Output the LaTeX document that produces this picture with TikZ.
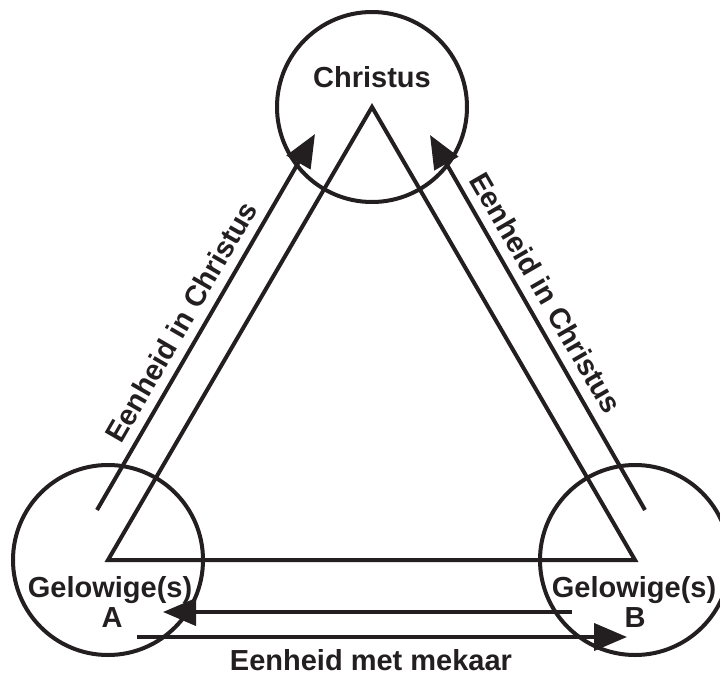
\documentclass[tikz,border=0pt]{standalone}
\usepackage{fontspec}
\setmainfont{Liberation Sans}
\usetikzlibrary{arrows.meta}
\definecolor{ink}{RGB}{35,31,32}
\begin{document}
\begin{tikzpicture}[x=1pt,y=-1pt,
  ln/.style={draw=ink, line width=4pt},
  ring/.style={circle, draw=ink, line width=4pt, minimum size=190pt, inner sep=0pt},
  arr/.style={ln, -{Triangle[length=33pt,width=27pt]}},
  lbl/.style={text=ink, font=\fontsize{29}{32}\selectfont\bfseries, inner sep=0pt},
]
\useasboundingbox (0,0) rectangle (720,677);
\coordinate (T) at (372,107);
\coordinate (L) at (108,560);
\coordinate (R) at (635,560);
\node[ring] (cT) at (T) {};
\node[ring] (cL) at (L) {};
\node[ring] (cR) at (R) {};
\draw[ln] (T) -- (L) -- (R) -- cycle;
% arrows
\coordinate (a1s) at (97,510);  \coordinate (a1e) at (315,134);
\coordinate (a2s) at (645,510); \coordinate (a2e) at (430,135);
\coordinate (a3s) at (572,612); \coordinate (a3e) at (163,612);
\coordinate (a4s) at (137,637); \coordinate (a4e) at (627,637);
\draw[arr] (a1s) -- (a1e);
\draw[arr] (a2s) -- (a2e);
\draw[arr] (a3s) -- (a3e);
\draw[arr] (a4s) -- (a4e);
% texts
\node[lbl, anchor=base] (tC) at (372,87) {Christus};
\node[lbl, anchor=base] (tGA) at (110,597) {Gelowige(s)};
\node[lbl, anchor=base] (tA) at (112,627) {A};
\node[lbl, anchor=base] (tGB) at (634,597) {Gelowige(s)};
\node[lbl, anchor=base] (tB) at (635,627) {B};
\node[lbl, anchor=base] (tM) at (371,670) {Eenheid met mekaar};
\node[lbl, anchor=base, rotate=60] (tL) at (190,327) {Eenheid in Christus};
\node[lbl, anchor=base, rotate=-60] (tR) at (537,298) {Eenheid in Christus};
\end{tikzpicture}
\end{document}
